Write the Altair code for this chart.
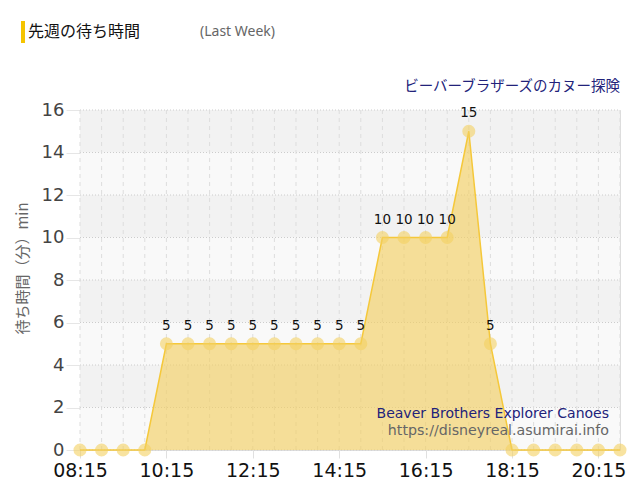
import altair as alt
import pandas as pd

times = ["08:15", "08:45", "09:15", "09:45", "10:15", "10:45", "11:15", "11:45",
         "12:15", "12:45", "13:15", "13:45", "14:15", "14:45", "15:15", "15:45",
         "16:15", "16:45", "17:15", "17:45", "18:15", "18:45", "19:15", "19:45",
         "20:15", "20:45"]
waits = [0, 0, 0, 0, 5, 5, 5, 5, 5, 5, 5, 5, 5, 5, 10, 10, 10, 10, 15, 5, 0, 0, 0, 0, 0, 0]
tick_labels = ["08:15", "10:15", "12:15", "14:15", "16:15", "18:15", "20:15"]
y_ticks = [0, 2, 4, 6, 8, 10, 12, 14, 16]


def to_min(s):
    h, m = s.split(":")
    return int(h) * 60 + int(m)


df = pd.DataFrame({"time": times, "t": [to_min(s) for s in times], "wait": waits})
lab_df = df[df["wait"] > 0]
bands = pd.DataFrame({"y": y_ticks[:-1], "y2": y_ticks[1:],
                      "par": [i % 2 for i in range(len(y_ticks) - 1)]})
hgrid = pd.DataFrame({"y": y_ticks})
one = pd.DataFrame({"a": [0]})

W, H = 540, 340
xs = alt.Scale(domain=[to_min(times[0]), to_min(times[-1])], nice=False, zero=False)
ys = alt.Scale(domain=[y_ticks[0], y_ticks[-1]], nice=False)

label_expr = ("(floor(datum.value/60)<10?'0':'') + floor(datum.value/60) + ':' + "
              "(datum.value%60<10?'0':'') + (datum.value%60)")

Y_TITLE = "待ち時間（分）min"

x_axis = alt.Axis(values=[to_min(s) for s in tick_labels], labelExpr=label_expr,
                  domain=False, grid=False, ticks=True, tickColor="#e0e0e0", tickSize=8,
                  labelFontSize=19, labelColor="#111111", labelFont="DejaVu Sans",
                  labelPadding=3, labelFlush=False, title=None)
y_axis = alt.Axis(values=y_ticks, domain=True, domainColor="#aaaaaa", grid=False,
                  ticks=True, tickColor="#e6e6e6", tickSize=14,
                  labelFontSize=18, labelColor="#444444", labelFont="DejaVu Sans",
                  labelPadding=2, title=Y_TITLE, titleFont="Noto Sans CJK JP",
                  titleFontSize=15, titleFontWeight="normal", titleColor="#666666",
                  titleX=-50, titleY=158, titleAlign="center")

band_layer = alt.Chart(bands).mark_rect().encode(
    x=alt.value(0), x2=alt.value(W),
    y=alt.Y("y:Q", scale=ys, axis=y_axis, title=Y_TITLE), y2="y2:Q",
    color=alt.Color("par:N", scale=alt.Scale(domain=[0, 1], range=["#f9f9f9", "#f2f2f2"]), legend=None),
)

hgrid_layer = alt.Chart(hgrid).mark_rule(color="#cccccc", strokeDash=[1, 2], strokeWidth=1).encode(
    y=alt.Y("y:Q", scale=ys, axis=y_axis, title=Y_TITLE), x=alt.value(0), x2=alt.value(W)
)

vgrid_layer = alt.Chart(df).mark_rule(color="#dddddd", strokeDash=[4, 4], strokeWidth=1).encode(
    x=alt.X("t:Q", scale=xs, axis=x_axis, title=None), y=alt.value(0), y2=alt.value(H)
)

area_layer = alt.Chart(df).mark_area(
    color="#f2d064", opacity=0.65, line={"color": "#f5c83a", "strokeWidth": 1.5}
).encode(
    x=alt.X("t:Q", scale=xs, axis=x_axis, title=None),
    y=alt.Y("wait:Q", scale=ys, axis=y_axis, title=Y_TITLE),
)

point_layer = alt.Chart(df).mark_circle(size=170, color="#f3d060", opacity=0.6).encode(
    x=alt.X("t:Q", scale=xs, axis=x_axis, title=None),
    y=alt.Y("wait:Q", scale=ys, axis=y_axis, title=Y_TITLE)
)

text_layer = alt.Chart(lab_df).mark_text(
    dy=-18, fontSize=13.5, font="DejaVu Sans", color="#111111"
).encode(
    x=alt.X("t:Q", scale=xs, axis=x_axis, title=None),
    y=alt.Y("wait:Q", scale=ys, axis=y_axis, title=Y_TITLE), text="wait:Q"
)

title_bar = alt.Chart(one).mark_rule(color="#f5c400", strokeWidth=4).encode(
    x=alt.value(-57), y=alt.value(-89), y2=alt.value(-67)
)
title_txt = alt.Chart(one).mark_text(
    text="先週の待ち時間", align="left", baseline="middle", font="Noto Sans CJK JP",
    fontSize=16, color="#111111"
).encode(x=alt.value(-52), y=alt.value(-78))
lastweek_txt = alt.Chart(one).mark_text(
    text="(Last Week)", align="left", baseline="middle", font="Noto Sans",
    fontSize=14, color="#666666"
).encode(x=alt.value(120), y=alt.value(-78))
sub_txt = alt.Chart(one).mark_text(
    text="ビーバーブラザーズのカヌー探険", align="right", baseline="middle",
    font="Noto Sans CJK JP", fontSize=14.5, color="#22227a"
).encode(x=alt.value(W), y=alt.value(-23))
en_txt = alt.Chart(one).mark_text(
    text="Beaver Brothers Explorer Canoes", align="right", baseline="middle",
    font="DejaVu Sans", fontSize=14, color="#22227a"
).encode(x=alt.value(529), y=alt.value(304))
url_txt = alt.Chart(one).mark_text(
    text="https://disneyreal.asumirai.info", align="right", baseline="middle",
    font="DejaVu Sans", fontSize=14.2, color="#666666"
).encode(x=alt.value(529), y=alt.value(321))

chart = alt.layer(
    band_layer, hgrid_layer, vgrid_layer, area_layer, point_layer, text_layer,
    title_bar, title_txt, lastweek_txt, sub_txt, en_txt, url_txt
).resolve_scale(color="independent").properties(
    width=W, height=H,
    autosize=alt.AutoSizeParams(type="none"),
    padding={"left": 72, "top": 102, "right": 12, "bottom": 40},
).configure_view(stroke=None).configure(background="white")

chart.save("out.html", embed_options={"renderer": "svg", "actions": False})
